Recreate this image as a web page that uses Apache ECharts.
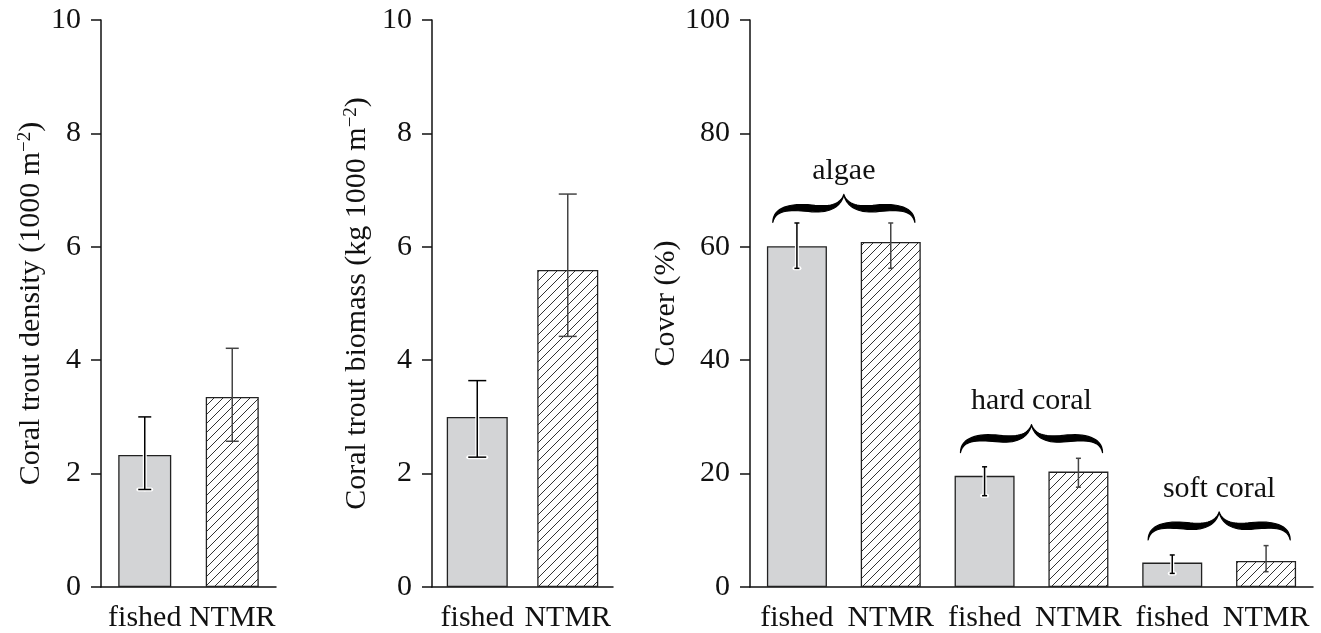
<!DOCTYPE html>
<html>
<head>
<meta charset="utf-8">
<title>Coral trout and benthic cover</title>
<script src="https://cdn.jsdelivr.net/npm/echarts@6/dist/echarts.min.js"></script>
<style>
  html, body { margin: 0; padding: 0; background: #fff; }
  #chart { width: 1321px; height: 633px; }
</style>
</head>
<body>
<div id="chart"></div>
<script>
// values
const densityCats = ['fished', 'NTMR']
const densityMean = [2.33, 3.35]
const densityLow = [1.72, 2.57]
const densityHigh = [3.0, 4.21]

const biomassCats = ['fished', 'NTMR']
const biomassMean = [3.0, 5.59]
const biomassLow = [2.29, 4.42]
const biomassHigh = [3.64, 6.93]

const coverCats = ['fished', 'NTMR', 'fished', 'NTMR', 'fished', 'NTMR']
const coverMean = [60.1, 60.85, 19.6, 20.35, 4.3, 4.6]
const coverLow = [56.2, 56.2, 16.1, 17.6, 2.4, 2.7]
const coverHigh = [64.2, 64.2, 21.2, 22.7, 5.65, 7.3]

const coverGroups = ['algae', 'hard coral', 'soft coral']
const braceLevel = [64.3, 23.7, 8.3] // cover value where each brace's ends sit

const FONT = "'Liberation Serif', 'Times New Roman', serif"
const INK = '#111'

// hatch pattern for the NTMR bars
function makeHatch() {
  const s = 9
  const c = document.createElement('canvas')
  c.width = s
  c.height = s
  const ctx = c.getContext('2d')
  ctx.fillStyle = '#fff'
  ctx.fillRect(0, 0, s, s)
  ctx.strokeStyle = '#333'
  ctx.lineWidth = 1
  ctx.beginPath()
  ctx.moveTo(-1, s + 1); ctx.lineTo(s + 1, -1)
  ctx.moveTo(-1, 1); ctx.lineTo(1, -1)
  ctx.moveTo(s - 1, s + 1); ctx.lineTo(s + 1, s - 1)
  ctx.stroke()
  return c
}
const hatch = makeHatch()

function barStyle(i) {
  if (i % 2 === 0) {
    return { color: '#d3d4d6', borderColor: '#222', borderWidth: 1.3 }
  }
  return { color: { image: hatch, repeat: 'repeat' }, borderColor: '#222', borderWidth: 1.3 }
}

function barData(means) {
  return means.map((v, i) => ({ value: v, itemStyle: barStyle(i) }))
}

function errData(low, high) {
  return low.map((v, i) => [i, v, high[i]])
}

function errRender(capHalf) {
  return function(params, api) {
    const idx = api.value(0)
    const lo = api.coord([idx, api.value(1)])
    const hi = api.coord([idx, api.value(2)])
    const x = hi[0]
    const segs = [
      [x, hi[1], x, lo[1]],
      [x - capHalf, hi[1], x + capHalf, hi[1]],
      [x - capHalf, lo[1], x + capHalf, lo[1]]
    ]
    const children = []
    const fished = idx % 2 === 0
    if (fished) {
      segs.forEach(s => children.push({
        type: 'line',
        shape: { x1: s[0], y1: s[1], x2: s[2], y2: s[3] },
        style: { stroke: '#fff', lineWidth: 4, lineCap: 'round' }
      }))
    }
    segs.forEach(s => children.push({
      type: 'line',
      shape: { x1: s[0], y1: s[1], x2: s[2], y2: s[3] },
      style: { stroke: fished ? '#000' : '#444', lineWidth: 1.5 }
    }))
    return { type: 'group', children: children }
  }
}

// curly brace drawn as a filled outline
function bez(p0, p1, p2, p3, n) {
  const out = []
  for (let k = 0; k <= n; k++) {
    const t = k / n
    const a = (1 - t) * (1 - t) * (1 - t)
    const b = 3 * (1 - t) * (1 - t) * t
    const c = 3 * (1 - t) * t * t
    const d = t * t * t
    out.push([a * p0[0] + b * p1[0] + c * p2[0] + d * p3[0], a * p0[1] + b * p1[1] + c * p2[1] + d * p3[1]])
  }
  return out
}

function bracePoints(tx, ty, w, h) {
  const P = (fx, fy) => [fx * w, fy * h]
  const topL = bez(P(-1, 1), P(-1, 0.45), P(-0.75, 0.3), P(-0.45, 0.38), 16)
    .concat(bez(P(-0.45, 0.38), P(-0.22, 0.45), P(-0.05, 0.38), P(0, 0), 16))
  const botL = bez(P(0, 0), P(-0.03, 0.4), P(-0.18, 0.68), P(-0.45, 0.62), 16)
    .concat(bez(P(-0.45, 0.62), P(-0.72, 0.56), P(-0.96, 0.5), P(-1, 1), 16))
  const m = p => [-p[0], p[1]]
  const topR = topL.slice().reverse().map(m)
  const botR = botL.slice().reverse().map(m)
  return topL.concat(topR, botR, botL).map(p => [tx + p[0], ty + p[1]])
}

function braceRender(params, api) {
  const g = api.value(0)
  const c = api.coord([2 * g, api.value(1)])
  const cat = api.size([1, 0])[0]
  const tipX = c[0] + cat / 2
  const h = 28
  const w = cat * 0.757
  const tipY = c[1] - h
  return {
    type: 'group',
    children: [
      {
        type: 'polygon',
        shape: { points: bracePoints(tipX, tipY, w, h) },
        style: { fill: '#000', stroke: '#000', lineWidth: 1.2, lineJoin: 'round' }
      },
      {
        type: 'text',
        style: {
          text: coverGroups[g], x: tipX, y: tipY - 8, align: 'center', verticalAlign: 'bottom',
          font: '30px ' + FONT, fill: INK
        }
      }
    ]
  }
}

function xAxisFor(grid, cats) {
  return {
    gridIndex: grid,
    type: 'category',
    data: cats,
    axisLine: { lineStyle: { color: INK, width: 1.5 } },
    axisTick: { show: false },
    axisLabel: { interval: 0, margin: 16, fontSize: 30, fontFamily: FONT, color: INK }
  }
}

const nameRich = {
  t: { fontSize: 30, fontFamily: FONT, color: INK, verticalAlign: 'bottom' },
  s: { fontSize: 19, fontFamily: FONT, color: INK, verticalAlign: 'top' }
}

function yAxisFor(grid, max, interval, name, gap) {
  return {
    gridIndex: grid,
    type: 'value',
    min: 0,
    max: max,
    interval: interval,
    name: name,
    nameLocation: 'middle',
    nameRotate: 90,
    nameGap: gap,
    nameTextStyle: { fontSize: 30, fontFamily: FONT, color: INK, rich: nameRich },
    axisLine: { show: true, lineStyle: { color: INK, width: 1.5 } },
    axisTick: { show: true, length: 10, lineStyle: { color: INK, width: 1.5 } },
    axisLabel: { margin: 20, fontSize: 30, fontFamily: FONT, color: INK },
    splitLine: { show: false }
  }
}

const chart = echarts.init(document.getElementById('chart'))
chart.setOption({
  backgroundColor: '#fff',
  animation: false,
  grid: [
    { left: 101, top: 20, width: 175, height: 567 },
    { left: 432, top: 20, width: 181, height: 567 },
    { left: 750, top: 20, width: 563, height: 567 }
  ],
  xAxis: [
    xAxisFor(0, densityCats),
    xAxisFor(1, biomassCats),
    xAxisFor(2, coverCats)
  ],
  yAxis: [
    yAxisFor(0, 10, 2, '{t|Coral trout density (1000 m}{s|−2}{t|)}', 55),
    yAxisFor(1, 10, 2, '{t|Coral trout biomass (kg 1000 m}{s|−2}{t|)}', 60),
    yAxisFor(2, 100, 20, '{t|Cover (%)}', 64)
  ],
  series: [
    { type: 'bar', xAxisIndex: 0, yAxisIndex: 0, barWidth: 53, data: barData(densityMean) },
    { type: 'custom', xAxisIndex: 0, yAxisIndex: 0, z: 5, renderItem: errRender(6.5),
      encode: { x: 0, y: [1, 2] }, data: errData(densityLow, densityHigh) },
    { type: 'bar', xAxisIndex: 1, yAxisIndex: 1, barWidth: 61, data: barData(biomassMean) },
    { type: 'custom', xAxisIndex: 1, yAxisIndex: 1, z: 5, renderItem: errRender(9),
      encode: { x: 0, y: [1, 2] }, data: errData(biomassLow, biomassHigh) },
    { type: 'bar', xAxisIndex: 2, yAxisIndex: 2, barWidth: 60, data: barData(coverMean) },
    { type: 'custom', xAxisIndex: 2, yAxisIndex: 2, z: 5, renderItem: errRender(2.5),
      encode: { x: 0, y: [1, 2] }, data: errData(coverLow, coverHigh) },
    { type: 'custom', xAxisIndex: 2, yAxisIndex: 2, z: 6, renderItem: braceRender,
      encode: { x: 0, y: 1 }, data: braceLevel.map((v, g) => [g, v]) }
  ]
})
</script>
</body>
</html>
